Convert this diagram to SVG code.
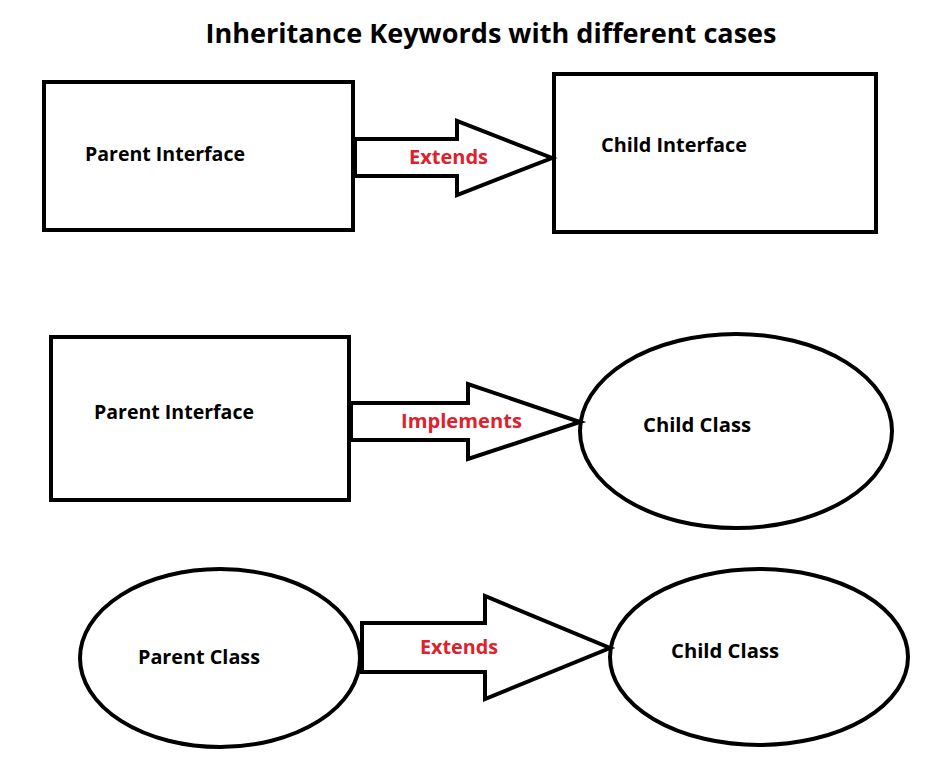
<svg xmlns="http://www.w3.org/2000/svg" width="944" height="784" viewBox="0 0 944 784">
<style>
.n{fill:#fff;stroke:#000;stroke-width:4}
.a{fill:#fff;stroke:#000;stroke-width:4;stroke-linejoin:miter}
.t{font-family:"Open Sans","Liberation Sans",sans-serif;font-weight:bold;font-size:19px;fill:#000}
.l{font-family:"Open Sans","Liberation Sans",sans-serif;font-weight:bold;font-size:19px;fill:#e0202a}
.h{font-family:"Open Sans","Liberation Sans",sans-serif;font-weight:bold;font-size:26px;fill:#000}
</style>
<rect width="944" height="784" fill="#fff"/>
<text class="h" x="491" y="43" text-anchor="middle" textLength="571" lengthAdjust="spacingAndGlyphs">Inheritance Keywords with different cases</text>
<g id="parent-interface-1"><rect class="n" x="44" y="82" width="309" height="148"/><text class="t" x="85" y="161" textLength="160" lengthAdjust="spacingAndGlyphs">Parent Interface</text></g>
<g id="child-interface"><rect class="n" x="554" y="74" width="322" height="158"/><text class="t" x="601" y="152" textLength="146" lengthAdjust="spacingAndGlyphs">Child Interface</text></g>
<g id="parent-interface-2"><rect class="n" x="51" y="337" width="298" height="163"/><text class="t" x="94" y="419" textLength="160" lengthAdjust="spacingAndGlyphs">Parent Interface</text></g>
<g id="child-class-1"><ellipse class="n" cx="736" cy="431" rx="156" ry="97"/><text class="t" x="643" y="432" textLength="108" lengthAdjust="spacingAndGlyphs">Child Class</text></g>
<g id="parent-class"><ellipse class="n" cx="220" cy="658" rx="140" ry="89"/><text class="t" x="138" y="664" textLength="122" lengthAdjust="spacingAndGlyphs">Parent Class</text></g>
<g id="child-class-2"><ellipse class="n" cx="759" cy="657" rx="149" ry="88"/><text class="t" x="671" y="658" textLength="108" lengthAdjust="spacingAndGlyphs">Child Class</text></g>
<g id="connectors">
<path class="a" d="M355,139 H457 V121 L552,158 L457,195 V176 H355 Z"/>
<rect x="353" y="139" width="4" height="37" fill="#000"/>
<text class="l" x="409" y="164" textLength="79" lengthAdjust="spacingAndGlyphs">Extends</text>
<path class="a" d="M351,403 H468 V384 L580,422 L468,459 V440 H351 Z"/>
<rect x="349" y="403" width="4" height="37" fill="#000"/>
<text class="l" x="401" y="428" textLength="121" lengthAdjust="spacingAndGlyphs">Implements</text>
<path class="a" d="M362,623 H485 V596 L610,648 L485,699 V672 H362 Z"/>
<text class="l" x="420" y="654" textLength="78" lengthAdjust="spacingAndGlyphs">Extends</text>
</g>
</svg>
